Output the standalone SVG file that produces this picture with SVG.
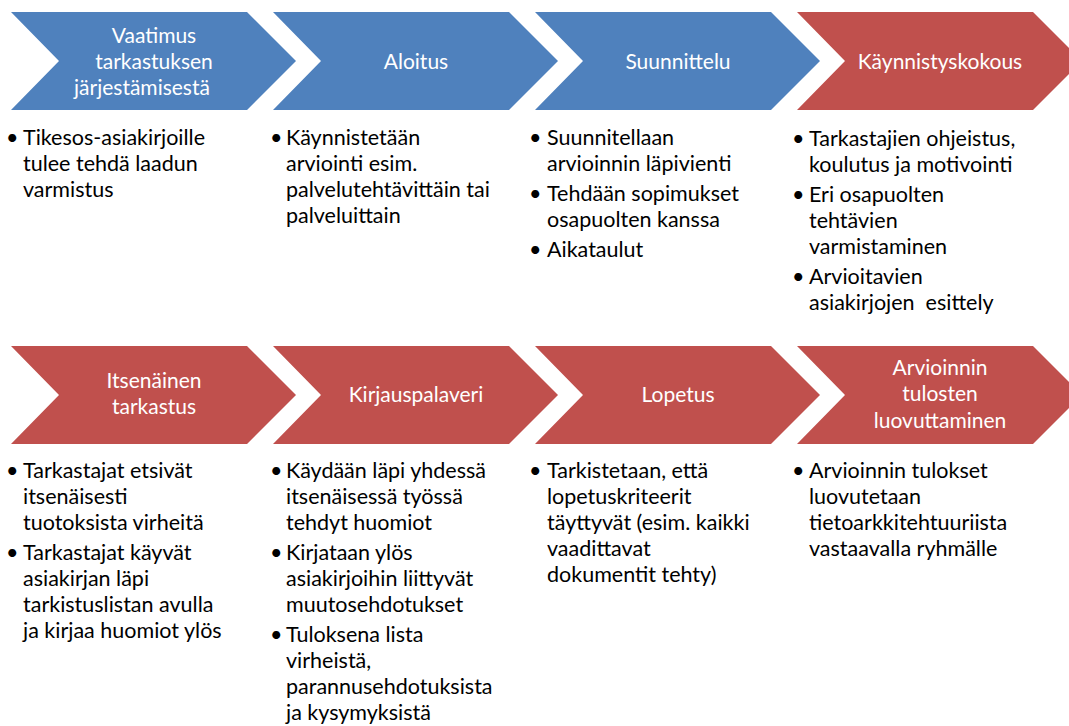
<svg xmlns="http://www.w3.org/2000/svg" width="1069" height="726" viewBox="0 0 1069 726">
<style>
.blue{fill:#4F81BD}
.red{fill:#C0504D}
.ct{font-family:Lato,"Liberation Sans",sans-serif;font-size:21px;fill:#FFFFFF;text-anchor:middle}
.bt{font-family:Lato,"Liberation Sans",sans-serif;font-size:21.5px;fill:#000000}
</style>
<defs>
<path id="chev" d="M0,0 L236,0 L285,49 L236,98 L0,98 L48,49 Z"/>
</defs>
<rect width="1069" height="726" fill="#FFFFFF"/>
<g id="connectors"/>
<g id="n1"><use href="#chev" x="11" y="12" class="blue"/>
<text class="ct"><tspan x="154" y="43">Vaatimus</tspan><tspan x="154" y="69">tarkastuksen</tspan><tspan x="142" y="95">järjestämisestä</tspan></text></g>
<g id="n2"><use href="#chev" x="273" y="12" class="blue"/>
<text class="ct" x="416" y="69">Aloitus</text></g>
<g id="n3"><use href="#chev" x="535" y="12" class="blue"/>
<text class="ct" x="678" y="69">Suunnittelu</text></g>
<g id="n4"><use href="#chev" x="797" y="12" class="red"/>
<text class="ct" x="940" y="69">Käynnistyskokous</text></g>
<g id="n5"><use href="#chev" x="11" y="346" class="red"/>
<text class="ct"><tspan x="154" y="388">Itsenäinen</tspan><tspan x="154" y="414">tarkastus</tspan></text></g>
<g id="n6"><use href="#chev" x="273" y="346" class="red"/>
<text class="ct" x="416" y="402">Kirjauspalaveri</text></g>
<g id="n7"><use href="#chev" x="535" y="346" class="red"/>
<text class="ct" x="678" y="402">Lopetus</text></g>
<g id="n8"><use href="#chev" x="797" y="346" class="red"/>
<text class="ct"><tspan x="940" y="375">Arvioinnin</tspan><tspan x="940" y="401">tulosten</tspan><tspan x="940" y="428">luovuttaminen</tspan></text></g>

<g id="b1" class="bt">
<text x="6" y="145">•</text>
<text><tspan x="23" y="145">Tikesos-asiakirjoille</tspan><tspan x="23" y="171">tulee tehdä laadun</tspan><tspan x="23" y="197">varmistus</tspan></text>
</g>
<g id="b2" class="bt">
<text x="270" y="145">•</text>
<text><tspan x="286" y="145">Käynnistetään</tspan><tspan x="286" y="171">arviointi esim.</tspan><tspan x="286" y="197">palvelutehtävittäin tai</tspan><tspan x="286" y="223">palveluittain</tspan></text>
</g>
<g id="b3" class="bt">
<text x="529" y="145">•</text>
<text><tspan x="547" y="145">Suunnitellaan</tspan><tspan x="547" y="171">arvioinnin läpivienti</tspan></text>
<text x="529" y="201">•</text>
<text><tspan x="547" y="201">Tehdään sopimukset</tspan><tspan x="547" y="227">osapuolten kanssa</tspan></text>
<text x="529" y="257">•</text>
<text x="547" y="257">Aikataulut</text>
</g>
<g id="b4" class="bt">
<text x="792" y="146">•</text>
<text><tspan x="809" y="146">Tarkastajien ohjeistus,</tspan><tspan x="809" y="172">koulutus ja motivointi</tspan></text>
<text x="792" y="202">•</text>
<text><tspan x="809" y="202">Eri osapuolten</tspan><tspan x="809" y="228">tehtävien</tspan><tspan x="809" y="254">varmistaminen</tspan></text>
<text x="792" y="284">•</text>
<text><tspan x="809" y="284">Arvioitavien</tspan><tspan x="809" y="310" xml:space="preserve">asiakirjojen  esittely</tspan></text>
</g>
<g id="b5" class="bt">
<text x="6" y="478">•</text>
<text><tspan x="23" y="478">Tarkastajat etsivät</tspan><tspan x="23" y="504">itsenäisesti</tspan><tspan x="23" y="530">tuotoksista virheitä</tspan></text>
<text x="6" y="560">•</text>
<text><tspan x="23" y="560">Tarkastajat käyvät</tspan><tspan x="23" y="586">asiakirjan läpi</tspan><tspan x="23" y="612">tarkistuslistan avulla</tspan><tspan x="23" y="638">ja kirjaa huomiot ylös</tspan></text>
</g>
<g id="b6" class="bt">
<text x="270" y="478">•</text>
<text><tspan x="286" y="478">Käydään läpi yhdessä</tspan><tspan x="286" y="504">itsenäisessä työssä</tspan><tspan x="286" y="530">tehdyt huomiot</tspan></text>
<text x="270" y="560">•</text>
<text><tspan x="286" y="560">Kirjataan ylös</tspan><tspan x="286" y="586">asiakirjoihin liittyvät</tspan><tspan x="286" y="612">muutosehdotukset</tspan></text>
<text x="270" y="642">•</text>
<text><tspan x="286" y="642">Tuloksena lista</tspan><tspan x="286" y="668">virheistä,</tspan><tspan x="286" y="694">parannusehdotuksista</tspan><tspan x="286" y="720">ja kysymyksistä</tspan></text>
</g>
<g id="b7" class="bt">
<text x="529" y="478">•</text>
<text><tspan x="547" y="478">Tarkistetaan, että</tspan><tspan x="547" y="504">lopetuskriteerit</tspan><tspan x="547" y="530">täyttyvät (esim. kaikki</tspan><tspan x="547" y="556">vaadittavat</tspan><tspan x="547" y="582">dokumentit tehty)</tspan></text>
</g>
<g id="b8" class="bt">
<text x="792" y="478">•</text>
<text><tspan x="809" y="478">Arvioinnin tulokset</tspan><tspan x="809" y="504">luovutetaan</tspan><tspan x="809" y="530">tietoarkkitehtuuriista</tspan><tspan x="809" y="556">vastaavalla ryhmälle</tspan></text>
</g>
</svg>
